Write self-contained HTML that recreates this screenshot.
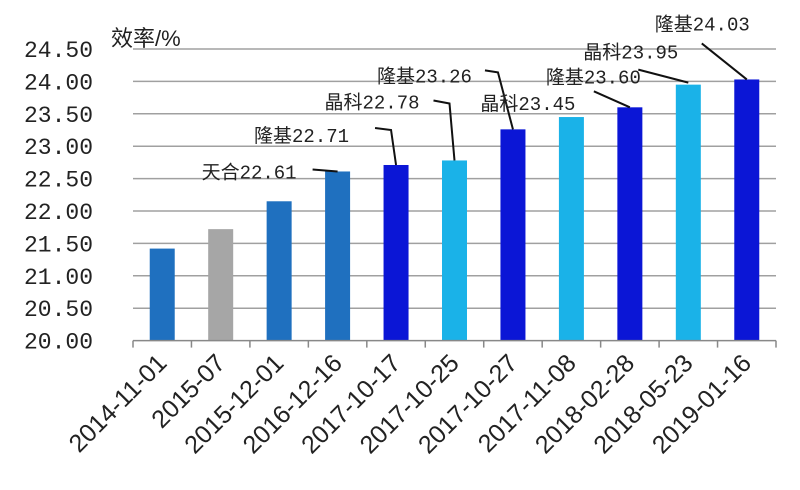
<!DOCTYPE html>
<html><head><meta charset="utf-8"><style>
html,body{margin:0;padding:0;background:#fff;}
svg{display:block;font-family:"Liberation Sans","Noto Sans CJK SC",sans-serif;}
</style></head><body>
<svg id="chart" width="800" height="490">
<g id="grid"></g>
<g id="yticks"></g>
<g id="bars"></g>
<g id="xaxis"></g>
<g id="annots"></g>
<text x="111" y="46" font-size="22" fill="#222">效率/%</text>
</svg>
<script>
const categories=["2014-11-01","2015-07","2015-12-01","2016-12-16","2017-10-17","2017-10-25","2017-10-27","2017-11-08","2018-02-28","2018-05-23","2019-01-16"];
const values=[21.42,21.72,22.15,22.61,22.71,22.78,23.26,23.45,23.60,23.95,24.03];
const colorKeys=["m","g","m","m","d","l","d","l","d","l","d"];
const yTicks=[20,20.5,21,21.5,22,22.5,23,23.5,24,24.5];
const labelNames=["","","","天合","隆基","晶科","隆基","晶科","隆基","晶科","隆基"];
const palette={m:"#1f70bf",g:"#a6a6a6",d:"#0b16d6",l:"#1ab2e8"};
// label layout offsets relative to bar top (text right end dx, text center dy, leader points)
const layout={
 3:{dx:-41,dy:0,pts:[[-25,-2],[0,0]]},
 4:{dx:-47,dy:-30,pts:[[-21,-37],[-5,-35],[0,0]]},
 5:{dx:-35,dy:-59,pts:[[-21,-60],[-5,-57],[0,0]]},
 6:{dx:-41,dy:-54,pts:[[-28,-59],[-15,-57],[0,0]]},
 7:{dx:4,dy:-14,pts:null},
 8:{dx:11,dy:-31,pts:[[-36,-16],[0,0]]},
 9:{dx:-10,dy:-33,pts:[[-50,-15],[0,-2]]},
 10:{dx:3,dy:-56,pts:[[-45,-36],[0,0]]}
};
const NS="http://www.w3.org/2000/svg";
const x0=133,x1=776,yMin=20,yMax=24.5,yB=340.6,yT=49;
const step=(x1-x0)/categories.length;
function Y(v){return yB-(v-yMin)/(yMax-yMin)*(yB-yT);}
function X(i){return x0+step*(i+0.5);}
function mk(tag,attrs,parent){const e=document.createElementNS(NS,tag);for(const k in attrs)e.setAttribute(k,attrs[k]);parent.appendChild(e);return e;}
const grid=document.getElementById('grid'),yt=document.getElementById('yticks'),bars=document.getElementById('bars'),xa=document.getElementById('xaxis'),an=document.getElementById('annots');
yTicks.forEach(t=>{
  if(t>yMin){const l=mk('line',{x1:x0,x2:x1,y1:Y(t),y2:Y(t),stroke:"#a0a0a0","stroke-width":1.5},grid);
  
  }
  const tx=mk('text',{x:93,y:Y(t)+8,"text-anchor":"end","font-size":23,"font-family":"Liberation Mono, monospace",fill:"#222"},yt);
  tx.textContent=t.toFixed(2);
  
  
});
const ax=mk('line',{x1:x0,x2:x1,y1:yB,y2:yB,stroke:"#888","stroke-width":1.5},xa);


for(let i=0;i<=categories.length;i++){
  const tk=mk('line',{x1:x0+step*i,x2:x0+step*i,y1:yB,y2:yB+7,stroke:"#888","stroke-width":1.5},xa);
  
  
}
categories.forEach((c,i)=>{
  const cx=X(i),top=Y(values[i]);
  const r=mk('rect',{x:cx-12.5,y:top,width:25,height:yB-top,fill:palette[colorKeys[i]]},bars);
  
  
  const t=mk('text',{x:0,y:0,"text-anchor":"end","font-size":25,fill:"#222",transform:`translate(${cx+6},${yB+24}) rotate(-45)`},xa);
  t.textContent=c;
  
  
  if(labelNames[i]){
    const L=layout[i]||{dx:0,dy:-20,pts:null};
    if(L.pts){const pl=mk('polyline',{points:L.pts.map(p=>(cx+p[0])+','+(top+p[1])).join(' '),fill:"none",stroke:"#111","stroke-width":2},an);
      
      }
    const lt=mk('text',{x:cx+L.dx,y:top+L.dy+7,"text-anchor":"end","font-size":19,"font-family":"Liberation Mono, Noto Sans CJK SC, monospace",fill:"#222"},an);
    lt.textContent=labelNames[i]+values[i].toFixed(2);
    
    
  }
});
</script>
</body></html>
